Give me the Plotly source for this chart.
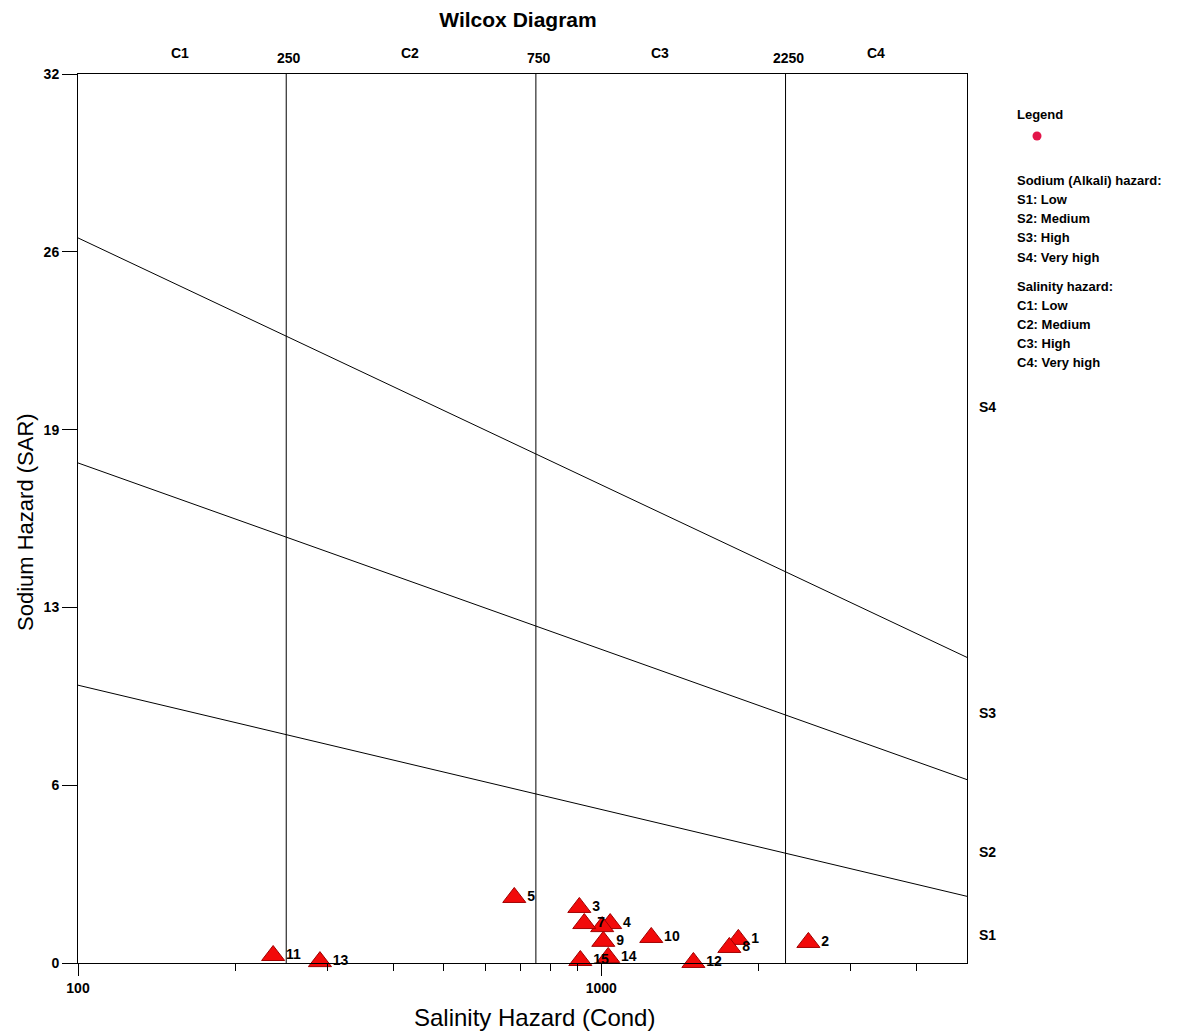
import math
import plotly.graph_objects as go

# ---------------- data ----------------
sample_ids = ["1", "2", "3", "4", "5", "6", "7", "8", "9", "10", "11", "12", "13", "14", "15"]
label_text = ["1", "2", "3", "4", "5", "", "7", "8", "9", "10", "11", "12", "13", "14", "15"]
cond = [1828, 2488, 908, 1040, 682, 1004, 928, 1757, 1009, 1246, 236, 1500, 290, 1031, 912]
sar = [0.85, 0.74, 2.0, 1.42, 2.36, 1.31, 1.42, 0.56, 0.78, 0.92, 0.27, 0.02, 0.05, 0.2, 0.09]

# classification boundary lines (SAR at EC=100 and EC=5000)
line_x = [100, 5000]
line_s1_s2 = [10.0, 2.4]
line_s2_s3 = [18.0, 6.6]
line_s3_s4 = [26.1, 11.0]

# salinity class boundaries
c_bounds = [250, 750, 2250]
c_labels = ["C1", "C2", "C3", "C4"]
s_labels = ["S1", "S2", "S3", "S4"]
s_label_pos = [1.0, 4.0, 9.0, 20.0]

y_tickvals = [0, 6.4, 12.8, 19.2, 25.6, 32]
y_ticktext = ["0", "6", "13", "19", "26", "32"]
x_major = [100, 1000]
x_major_text = ["100", "1000"]
x_minor = [200, 300, 400, 500, 600, 700, 800, 900, 2000, 3000, 4000]

legend_title = "Legend"
legend_lines_s = ["Sodium (Alkali) hazard:", "S1: Low", "S2: Medium", "S3: High", "S4: Very high"]
legend_lines_c = ["Salinity hazard:", "C1: Low", "C2: Medium", "C3: High", "C4: Very high"]

FONT = "Arial, 'Liberation Sans', sans-serif"

# page body has an 8px margin; plot area is placed at page x 78..967, y 74..963
PW = 889.0

fig = go.Figure()

for ys in (line_s1_s2, line_s2_s3, line_s3_s4):
    fig.add_trace(go.Scatter(x=line_x, y=ys, mode="lines",
                             line=dict(color="black", width=1), showlegend=False, hoverinfo="skip"))
for cb in c_bounds:
    fig.add_trace(go.Scatter(x=[cb, cb], y=[0, 32], mode="lines",
                             line=dict(color="black", width=1), showlegend=False, hoverinfo="skip"))

fig.add_trace(go.Scatter(x=cond, y=sar, mode="markers", text=sample_ids,
                         marker=dict(symbol="triangle-up", size=20, color="#f20a0a",
                                     line=dict(color="#a00000", width=1)),
                         showlegend=False, cliponaxis=False))
# sample labels on top of the markers
fig.add_trace(go.Scatter(x=cond, y=sar, mode="markers+text", text=label_text,
                         textposition="middle right",
                         textfont=dict(family=FONT, size=14, color="black", weight="bold"),
                         marker=dict(size=19, opacity=0), showlegend=False, cliponaxis=False,
                         hoverinfo="skip"))


def xpap(px):
    return (px - 78) / PW


def ypap(py):
    return (963 - py) / PW


annotations = []
# top labels
for lab, px in zip(c_labels, [180, 410, 660, 876]):
    annotations.append(dict(text="<b>" + lab + "</b>", x=xpap(px), xref="paper", y=ypap(53), yref="paper",
                            xanchor="center", yanchor="middle", showarrow=False,
                            font=dict(family=FONT, size=14, color="black")))
for cb in c_bounds:
    annotations.append(dict(text="<b>" + str(cb) + "</b>", x=math.log10(cb), xref="x", y=ypap(58), yref="paper",
                            xanchor="center", yanchor="middle", showarrow=False, xshift=3,
                            font=dict(family=FONT, size=14, color="black")))
# right S labels
for lab, yv in zip(s_labels, s_label_pos):
    annotations.append(dict(text="<b>" + lab + "</b>", x=xpap(977), xref="paper", y=yv, yref="y",
                            xanchor="left", yanchor="middle", showarrow=False,
                            font=dict(family=FONT, size=14, color="black")))

# axis titles
annotations.append(dict(text="Salinity Hazard (Cond)", x=xpap(534), xref="paper", y=ypap(1018), yref="paper",
                        xanchor="center", yanchor="middle", showarrow=False,
                        font=dict(family=FONT, size=24, color="black")))
annotations.append(dict(text="Sodium Hazard (SAR)", x=xpap(25), xref="paper", y=ypap(522), yref="paper",
                        xanchor="center", yanchor="middle", showarrow=False, textangle=-90,
                        font=dict(family=FONT, size=22, color="black")))

# legend texts
xleg = xpap(1015)
annotations.append(dict(text="<b>" + legend_title + "</b>", x=xleg, xref="paper", y=ypap(115), yref="paper",
                        xanchor="left", yanchor="middle", showarrow=False,
                        font=dict(family=FONT, size=13, color="black")))
for i, t in enumerate(legend_lines_s):
    annotations.append(dict(text="<b>" + t + "</b>", x=xleg, xref="paper", y=ypap(180 + i * 19.3), yref="paper",
                            xanchor="left", yanchor="middle", showarrow=False,
                            font=dict(family=FONT, size=13, color="black")))
for i, t in enumerate(legend_lines_c):
    annotations.append(dict(text="<b>" + t + "</b>", x=xleg, xref="paper", y=ypap(286 + i * 19.2), yref="paper",
                            xanchor="left", yanchor="middle", showarrow=False,
                            font=dict(family=FONT, size=13, color="black")))

cx = xpap(1037)
cy = ypap(136)
r = 4.5 / PW
shapes = [dict(type="circle", xref="paper", yref="paper", x0=cx - r, x1=cx + r, y0=cy - r, y1=cy + r,
               fillcolor="#e3154a", line=dict(color="#e3154a", width=0))]

fig.update_layout(
    width=1185, height=1024,
    margin=dict(l=70, r=226, t=66, b=69),
    paper_bgcolor="white", plot_bgcolor="white",
    title=dict(text="<b>Wilcox Diagram</b>", xref="container", yref="container",
               x=510 / 1185, xanchor="center", y=1 - 12 / 1024, yanchor="middle",
               font=dict(family=FONT, size=21, color="black")),
    annotations=annotations, shapes=shapes,
    showlegend=False,
)
fig.update_xaxes(type="log", range=[2, math.log10(5000)], automargin=False,
                 tickvals=x_major, ticktext=["<b>" + t + "</b>" for t in x_major_text],
                 ticks="outside", ticklen=12, tickcolor="black", tickwidth=1,
                 minor=dict(tickvals=x_minor, ticks="outside", ticklen=7, tickcolor="black", tickwidth=1),
                 showgrid=False, zeroline=False, showline=True, linecolor="black", linewidth=1, mirror=True,
                 tickfont=dict(family=FONT, size=14, color="black"))
fig.update_yaxes(range=[0, 32], automargin=False, tickvals=y_tickvals,
                 ticktext=["<b>" + t + "</b>" for t in y_ticktext],
                 ticks="outside", ticklen=15, tickcolor="black", tickwidth=1,
                 showgrid=False, zeroline=False, showline=True, linecolor="black", linewidth=1, mirror=True,
                 tickfont=dict(family=FONT, size=14, color="black"))

fig.write_html("out.html")
